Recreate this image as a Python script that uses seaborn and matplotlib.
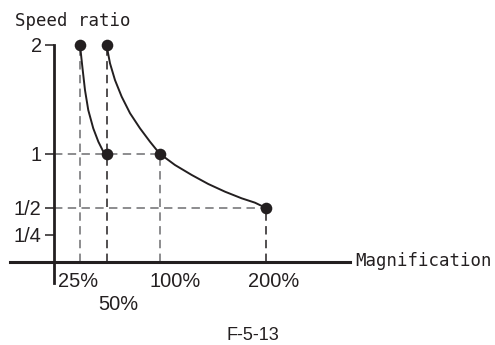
import matplotlib
matplotlib.use("Agg")
import matplotlib.pyplot as plt
import seaborn as sns
import pandas as pd

# ---- data ----
points_x = [25, 50, 50, 100, 200]
points_y = [2, 2, 1, 1, 0.5]

curve1_x = [25, 27.2, 29.7, 32.8, 37.5, 42.3, 47.0, 50]
curve1_y = [2, 1.80, 1.585, 1.40, 1.232, 1.109, 1.017, 1.0]

curve2_x = [50, 53.3, 58.0, 64.3, 72.2, 81.6, 91.0, 100, 114.6, 130.4, 146.0, 161.8, 177.5, 190, 200]
curve2_y = [2, 1.831, 1.677, 1.524, 1.371, 1.232, 1.109, 1.0, 0.894, 0.802, 0.719, 0.648, 0.587, 0.547, 0.5]

ytick_values = [0.25, 0.5, 1, 2]
ytick_labels = ["1/4", "1/2", "1", "2"]
xtick_values = [25, 50, 100, 200]
xtick_labels = ["25%", "50%", "100%", "200%"]

W, H, DPI = 495, 345, 100
INK = "#231f20"
GRAY = "#6d6e70"

sns.set_style("white")
plt.rcParams["font.family"] = ["Liberation Sans", "DejaVu Sans"]

fig = plt.figure(figsize=(W / DPI, H / DPI), dpi=DPI)
ax = fig.add_axes([0, 0, 1, 1])

# pixel mapping: px = 53.5 + 1.06*x ; py(from top) = 262 - 108.5*y
x0, sx = 53.5, 1.06
y0, sy = 262, 108.5
ax.set_xlim((0 - x0) / sx, (W - x0) / sx)
ax.set_ylim((y0 - H) / sy, (y0 - 0) / sy)

# dashed guide lines
dash = (0, (5.5, 3.5))
ax.vlines(points_x[0], 0, points_y[0], colors=GRAY, lw=1.1, linestyles=dash)
ax.vlines(points_x[1], 0, points_y[1], colors=INK, lw=1.1, linestyles=dash)
ax.hlines(points_y[3], 0, points_x[3], colors=GRAY, lw=1.1, linestyles=dash)
ax.vlines(points_x[3], 0, points_y[3], colors=GRAY, lw=1.1, linestyles=dash)
ax.hlines(points_y[4], 0, points_x[4], colors=GRAY, lw=1.1, linestyles=dash)
ax.vlines(points_x[4], 0, points_y[4], colors=INK, lw=1.1, linestyles=dash)

# curves
c1 = pd.DataFrame({"x": curve1_x, "y": curve1_y})
c2 = pd.DataFrame({"x": curve2_x, "y": curve2_y})
for c in (c1, c2):
    sns.lineplot(data=c, x="x", y="y", ax=ax, color=INK, lw=1.4, sort=False,
                 estimator=None, solid_joinstyle="round", solid_capstyle="round")

# points
pts = pd.DataFrame({"x": points_x, "y": points_y})
sns.scatterplot(data=pts, x="x", y="y", ax=ax, color=INK, s=70, edgecolor=INK,
                linewidth=0, zorder=5)

# axes spines
for s in ["top", "right"]:
    ax.spines[s].set_visible(False)
ax.spines["left"].set_position(("data", 0))
ax.spines["bottom"].set_position(("data", 0))
ax.spines["left"].set_bounds((y0 - 283) / sy, 2)
ax.spines["bottom"].set_bounds((10 - x0) / sx, (350 - x0) / sx)
ax.spines["left"].set_linewidth(2.0)
ax.spines["bottom"].set_linewidth(2.2)
ax.spines["left"].set_color(INK)
ax.spines["bottom"].set_color(INK)

ax.set_yticks(ytick_values)
ax.set_yticklabels(ytick_labels)
ax.tick_params(axis="y", left=True, direction="out", length=6.5, width=1.1, color=INK,
               labelsize=14.4, labelcolor=INK, pad=2)
ax.set_xticks([])
ax.set_xlabel("")
ax.set_ylabel("")

# x tick labels (offset as in the reference)
x_off = [-2, 12, 16, 8]
y_off = [-10, -33, -10, -10]
for v, lab, dx, dy in zip(xtick_values, xtick_labels, x_off, y_off):
    ax.annotate(lab, xy=(v, 0), xytext=(dx * 0.72, dy * 0.72), textcoords="offset points",
                ha="center", va="top", fontsize=14.4, color=INK)

mono = ["DejaVu Sans Mono"]
fig.text(15 / W, 1 - 26 / H, "Speed ratio", family=mono, fontsize=12.5,
         color=INK, ha="left", va="baseline")
fig.text(355 / W, 1 - 261 / H, "Magnification", family=mono, fontsize=12.5,
         color=INK, ha="left", va="center")
fig.text(253 / W, 1 - 340 / H, "F-5-13", fontsize=13, color=INK,
         ha="center", va="baseline")

fig.savefig("out.png", dpi=DPI)
